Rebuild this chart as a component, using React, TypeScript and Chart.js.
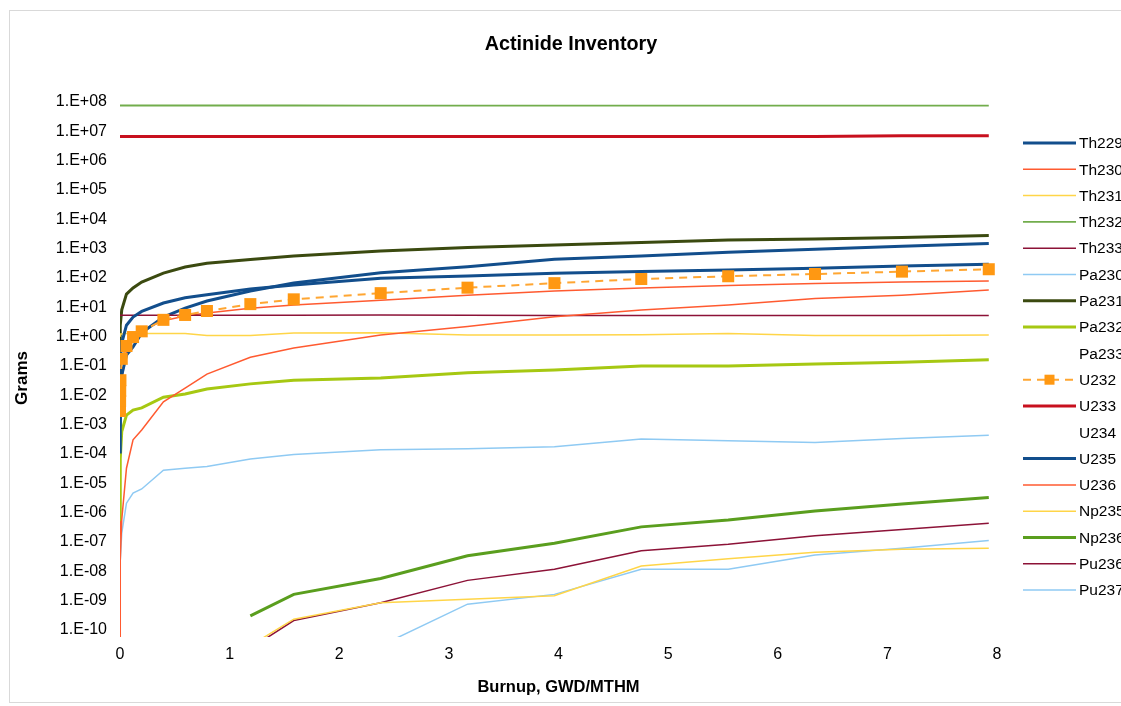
import React, { useEffect, useRef } from "react";
import { Chart, registerables } from "chart.js";

Chart.register(...registerables);

const FONT = "'Liberation Sans', Arial, sans-serif";

// Burnup (GWD/MTHM) at each calculation step
const BURNUP = [0, 0.001, 0.002, 0.004, 0.016, 0.059, 0.119, 0.198, 0.396, 0.594, 0.793, 1.189, 1.585, 2.378, 3.17, 3.963, 4.755, 5.548, 6.34, 7.133, 7.925];

// Grams of each nuclide at each step (null = not present)
const TH229 = [1e-4, 0.006, 0.04, 0.14, 0.52, 2.1, 4, 6.2, 12, 18, 23, 36, 49, 83, 100, 123, 141, 160, 182, 218, 252];
const TH230 = [1e-11, 1e-9, 5e-9, 2e-8, 5e-7, 2.8e-5, 2.6e-4, 5.6e-4, 5.1e-3, 0.015, 0.045, 0.17, 0.35, 0.98, 1.9, 4.1, 6.9, 10.2, 17, 22, 33];
const TH231 = [0.9, 1.0, 1.0, 1.05, 1.05, 1.1, 1.1, 1.1, 1.1, 1.1, 0.94, 0.94, 1.15, 1.17, 0.98, 0.98, 1.0, 1.1, 0.94, 0.94, 0.98];
const TH232 = [6.5e7, 6.5e7, 6.5e7, 6.5e7, 6.5e7, 6.5e7, 6.5e7, 6.5e7, 6.5e7, 6.5e7, 6.5e7, 6.5e7, 6.49e7, 6.48e7, 6.47e7, 6.46e7, 6.45e7, 6.44e7, 6.43e7, 6.42e7, 6.41e7];
const TH233 = [4.6, 4.6, 4.6, 4.6, 4.6, 4.6, 4.6, 4.6, 4.6, 4.6, 4.6, 4.6, 4.6, 4.7, 4.6, 4.5, 4.5, 4.5, 4.5, 4.5, 4.5];
const PA230 = [1e-10, 1e-9, 5e-9, 2e-8, 1.7e-7, 1.8e-6, 4e-6, 5.5e-6, 2.4e-5, 2.8e-5, 3.2e-5, 5.8e-5, 8.2e-5, 1.2e-4, 1.3e-4, 1.5e-4, 2.8e-4, 2.4e-4, 2.1e-4, 2.9e-4, 3.7e-4];
const PA231 = [0.006, 0.3, 0.9, 2.1, 7, 24, 39, 62, 126, 203, 270, 365, 480, 710, 940, 1140, 1390, 1700, 1830, 2050, 2400];
const PA232 = [5e-7, 5e-6, 2e-5, 6e-5, 5e-4, 1.8e-3, 2.7e-3, 3.2e-3, 7.4e-3, 9.5e-3, 0.014, 0.021, 0.028, 0.033, 0.05, 0.062, 0.085, 0.086, 0.1, 0.115, 0.14];
const PA233: (number | null)[] = [];
const U232 = [0.0025, 0.0055, 0.012, 0.028, 0.15, 0.41, 0.83, 1.3, 3.2, 4.7, 6.4, 11, 16, 26, 40, 57, 79, 98, 117, 141, 170];
const U233 = [5.7e6, 5.7e6, 5.7e6, 5.7e6, 5.7e6, 5.7e6, 5.7e6, 5.7e6, 5.7e6, 5.7e6, 5.7e6, 5.7e6, 5.7e6, 5.7e6, 5.7e6, 5.7e6, 5.7e6, 5.7e6, 5.7e6, 6.1e6, 6.1e6];
const U234: (number | null)[] = [];
const U235 = [1e-4, 0.001, 0.004, 0.013, 0.042, 0.2, 0.38, 1.15, 4, 8, 14, 31, 58, 128, 208, 370, 480, 640, 810, 1030, 1290];
const U236 = [1e-11, 1e-6, 1e-4, 1e-3, 0.03, 0.3, 0.8, 1.4, 3, 4.3, 5.5, 8, 10.2, 15, 22, 31, 39, 47, 55, 62, 67];
const NP235 = [null, null, null, null, null, null, null, null, null, null, null, 2.5e-11, 2e-10, 7.3e-10, 9.5e-10, 1.26e-9, 1.3e-8, 2.3e-8, 3.8e-8, 4.8e-8, 5.2e-8];
const NP236 = [null, null, null, null, null, null, null, null, null, null, null, 2.6e-10, 1.4e-9, 4.9e-9, 2.9e-8, 7.7e-8, 2.8e-7, 4.8e-7, 9.7e-7, 1.7e-6, 2.8e-6];
const PU236 = [null, null, null, null, null, null, null, null, null, null, null, 2e-11, 1.8e-10, 7.3e-10, 4.2e-9, 1.0e-8, 4.3e-8, 7.1e-8, 1.4e-7, 2.3e-7, 3.7e-7];
const PU237 = [null, null, null, null, null, null, null, null, null, null, null, null, null, 2.5e-11, 6.5e-10, 1.4e-9, 1.0e-8, 1.0e-8, 3.1e-8, 5.2e-8, 9.7e-8];

const X_TICKS = [0, 1, 2, 3, 4, 5, 6, 7, 8];
const Y_TICKS = [1e-10, 1e-9, 1e-8, 1e-7, 1e-6, 1e-5, 1e-4, 1e-3, 1e-2, 1e-1, 1e0, 1e1, 1e2, 1e3, 1e4, 1e5, 1e6, 1e7, 1e8];

const pts = (vals: (number | null)[]) => vals.map((v, i) => ({ x: BURNUP[i], y: v }));

const fmtExp = (v: number) => {
  const e = Math.round(Math.log10(v));
  const s = String(Math.abs(e)).padStart(2, "0");
  return `1.E${e >= 0 ? "+" : "-"}${s}`;
};

type SeriesDef = { label: string; data: (number | null)[]; color: string; width: number; dash?: number[]; marker?: boolean; none?: boolean };

const SERIES: SeriesDef[] = [
  { label: "Th229", data: TH229, color: "#124e8c", width: 3 },
  { label: "Th230", data: TH230, color: "#ff5a30", width: 1.5 },
  { label: "Th231", data: TH231, color: "#ffd548", width: 1.5 },
  { label: "Th232", data: TH232, color: "#72ad4c", width: 1.8 },
  { label: "Th233", data: TH233, color: "#8c1237", width: 1.5 },
  { label: "Pa230", data: PA230, color: "#8fcaf3", width: 1.5 },
  { label: "Pa231", data: PA231, color: "#3b4a10", width: 3 },
  { label: "Pa232", data: PA232, color: "#a6c812", width: 3 },
  { label: "Pa233", data: PA233, color: "rgba(0,0,0,0)", width: 0, none: true },
  { label: "U232", data: U232, color: "#ffa632", width: 2, dash: [8, 6], marker: true },
  { label: "U233", data: U233, color: "#c8101e", width: 3 },
  { label: "U234", data: U234, color: "rgba(0,0,0,0)", width: 0, none: true },
  { label: "U235", data: U235, color: "#124e8c", width: 3 },
  { label: "U236", data: U236, color: "#ff5a30", width: 1.5 },
  { label: "Np235", data: NP235, color: "#ffd548", width: 1.5 },
  { label: "Np236", data: NP236, color: "#5a9e1e", width: 3 },
  { label: "Pu236", data: PU236, color: "#8c1237", width: 1.5 },
  { label: "Pu237", data: PU237, color: "#8fcaf3", width: 1.5 },
];

const MARKER_COLOR = "#ff9812";

const framePlugin = {
  id: "frameAndLegend",
  beforeDraw(chart: any) {
    const { ctx, width, height } = chart;
    ctx.save();
    ctx.fillStyle = "#ffffff";
    ctx.fillRect(0, 0, width, height);
    ctx.strokeStyle = "#d9d9d9";
    ctx.lineWidth = 1;
    ctx.strokeRect(9.5, 10.5, width + 20, height - 14);
    ctx.restore();
  },
  afterDraw(chart: any) {
    const { ctx } = chart;
    ctx.save();
    const x0 = 1023;
    const x1 = 1076;
    const top = 143;
    const step = 26.3;
    chart.data.datasets.forEach((ds: any, i: number) => {
      const y = top + i * step;
      const def = SERIES[i];
      if (!def.none) {
        ctx.strokeStyle = ds.borderColor;
        ctx.lineWidth = ds.borderWidth;
        ctx.setLineDash(ds.borderDash || []);
        ctx.beginPath();
        ctx.moveTo(x0, y);
        ctx.lineTo(x1, y);
        ctx.stroke();
        ctx.setLineDash([]);
        if (def.marker) {
          ctx.fillStyle = MARKER_COLOR;
          ctx.fillRect((x0 + x1) / 2 - 5, y - 5, 10, 10);
        }
      }
      ctx.fillStyle = "#000";
      ctx.font = `15.5px ${FONT}`;
      ctx.textBaseline = "middle";
      ctx.textAlign = "left";
      ctx.fillText(ds.label, x1 + 3, y + 1);
    });
    ctx.restore();
  },
};

export default function App() {
  const ref = useRef<HTMLCanvasElement | null>(null);

  useEffect(() => {
    if (!ref.current) return;
    const datasets = SERIES.map((s) => ({
      label: s.label,
      data: pts(s.data),
      yAxisID: "y",
      borderColor: s.color,
      backgroundColor: s.color,
      borderWidth: s.width,
      borderDash: s.dash || [],
      pointRadius: s.marker ? 8.5 : 0,
      pointStyle: "rect",
      pointBackgroundColor: MARKER_COLOR,
      pointBorderColor: MARKER_COLOR,
      pointBorderWidth: 0,
      tension: 0,
      spanGaps: false,
      fill: false,
      order: s.marker ? -1 : 0,
    }));

    const chart = new Chart(ref.current, {
      type: "line",
      data: { datasets },
      plugins: [framePlugin],
      options: {
        animation: false,
        responsive: false,
        devicePixelRatio: 1,
        layout: { padding: { left: 21, right: 0, top: 0, bottom: 0 } },
        plugins: {
          legend: { display: false },
          tooltip: { enabled: false },
          title: {
            display: true,
            text: "Actinide Inventory",
            color: "#000",
            font: { family: FONT, size: 19.8, weight: "bold" },
            padding: { top: 33, bottom: 43.24 },
          },
        },
        scales: {
          x: {
            type: "linear",
            min: 0,
            max: 8,
            grid: { display: false, drawTicks: false },
            border: { display: false },
            afterBuildTicks: (scale: any) => {
              scale.ticks = X_TICKS.map((v) => ({ value: v }));
            },
            afterFit: (scale: any) => {
              scale.height = 69;
            },
            ticks: {
              color: "#000",
              font: { family: FONT, size: 16 },
              padding: 8,
              autoSkip: false,
              maxRotation: 0,
              callback: (v: any) => String(v),
            },
            title: {
              display: true,
              text: "Burnup, GWD/MTHM",
              color: "#000",
              font: { family: FONT, size: 16.5, weight: "bold" },
              padding: { top: 0, bottom: 9 },
            },
          },
          y: {
            type: "logarithmic",
            position: "left",
            min: Math.pow(10, -10.307),
            max: 1e8,
            grid: { display: false, drawTicks: false },
            border: { display: false },
            afterBuildTicks: (scale: any) => {
              scale.ticks = Y_TICKS.map((v) => ({ value: v }));
            },
            afterFit: (scale: any) => {
              scale.width = 99;
            },
            ticks: {
              color: "#000",
              font: { family: FONT, size: 16 },
              padding: 13,
              labelOffset: 2,
              autoSkip: false,
              callback: (v: any) => fmtExp(Number(v)),
            },
            title: {
              display: true,
              text: "Grams    ",
              color: "#000",
              font: { family: FONT, size: 17, weight: "bold" },
              padding: { top: -9.2, bottom: 0 },
            },
          },
          legendSpace: {
            type: "linear",
            position: "right",
            display: true,
            grid: { display: false, drawTicks: false },
            border: { display: false },
            ticks: { display: false },
            afterFit: (scale: any) => {
              scale.width = 124;
            },
          },
        },
      } as any,
    });
    return () => chart.destroy();
  }, []);

  return (
    <div style={{ position: "absolute", left: 0, top: 0, width: 1121, height: 706, overflow: "hidden", background: "#fff" }}>
      <canvas ref={ref} width={1121} height={706} style={{ display: "block", width: 1121, height: 706 }} />
    </div>
  );
}
